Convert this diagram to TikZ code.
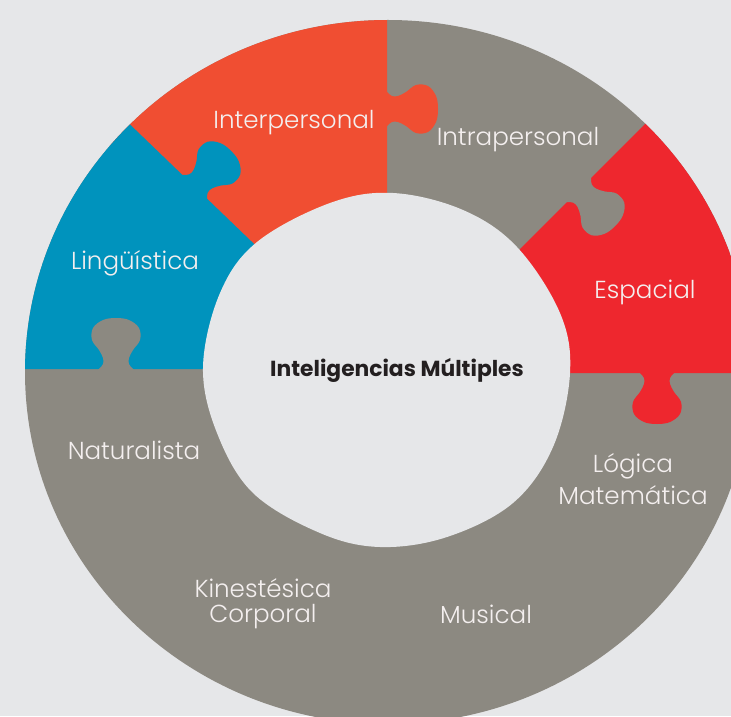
\documentclass[tikz,border=0pt]{standalone}
\usepackage{fontspec}
\setmainfont{Poppins}
\IfFontExistsTF{Poppins Light}{\newfontfamily\ligera{Poppins Light}}{\newfontfamily\ligera{Poppins}}
\usepackage{tikz}
\usetikzlibrary{positioning}

\definecolor{fondo}{HTML}{E6E7E9}
\definecolor{gris}{HTML}{8C8981}
\definecolor{naranja}{HTML}{F04E32}
\definecolor{azul}{HTML}{0093BD}
\definecolor{rojo}{HTML}{EE272E}
\definecolor{letra}{HTML}{F4EFEF}
\definecolor{tinta}{HTML}{231F20}

\tikzset{
  puzzletab/.pic={
    \path[pic actions] plot[smooth,tension=0.6] coordinates {(-22,-4) (-17,0) (-13,5) (-13,11) (-17,19) (-24,29) (-23,41) (-13,49) (0,51) (13,49) (23,41) (24,29) (17,19) (13,11) (13,5) (17,0) (22,-4)} -- cycle;
  }
}

\begin{document}
\begin{tikzpicture}[x=0.5pt,y=-0.5pt,node distance=14.5pt]
 \tikzstyle{label node}=[text=letra,font=\ligera\fontsize{12.3}{14}\selectfont,align=center]
 \tikzstyle{title node}=[text=tinta,font=\bfseries\fontsize{10.9}{13}\selectfont]

 \useasboundingbox (0,0) rectangle (731,716);
 \clip (0,0) rectangle (731,716);
 \fill[fondo] (0,0) rectangle (731,716);

 % ring
 \fill[gris] (388,372) ellipse [x radius=363,y radius=352];
 \begin{scope}
  \clip (388,372) ellipse [x radius=363,y radius=352];
  \fill[naranja] (387,372) -- (-20,40) -- (-20,-20) -- (387,-20) -- cycle;
  \fill[azul] (387,372) -- (-20,-20) -- (-20,369) -- (387,369) -- cycle;
  \fill[rojo] (388,381) -- (780,-11) -- (780,373) -- (388,373) -- cycle;
 \end{scope}

 % tabs
 \pic[fill=naranja,rotate=90] at (387,109) {puzzletab};
 \pic[fill=azul,rotate=135] at (195,187) {puzzletab};
 \pic[fill=rojo] at (657,373) {puzzletab};
 \pic[fill=gris,rotate=45] at (579,190) {puzzletab};
 \pic[fill=gris,rotate=180] at (116,369) {puzzletab};

 % hole
 \fill[fondo] plot[smooth cycle,tension=0.6] coordinates {(393,193) (463,210) (517,247) (560,313) (570,373) (553,447) (513,503) (447,537) (380,547) (320,533) (253,493) (217,433) (203,367) (220,293) (257,242) (330,203)};

 \node[title node] (centro) at (397,370) {Inteligencias Múltiples};
 \node[label node] (inter) at (294,123) {Interpersonal};
 \node[label node] (intra) at (518,140) {Intrapersonal};
 \node[label node] (ling) at (135,263) {Lingüística};
 \node[label node] (esp) at (645,292) {Espacial};
 \node[label node] (nat) at (134,450) {Naturalista};
 \node[label node] (logica) at (633,466) {Lógica};
 \node[label node] (mate) [below of=logica] {Matemática};
 \node[label node] (kine) at (263,588) {Kinestésica};
 \node[label node] (corp) [below of=kine] {Corporal};
 \node[label node] (musical) at (486,614) {Musical};
\end{tikzpicture}
\end{document}
